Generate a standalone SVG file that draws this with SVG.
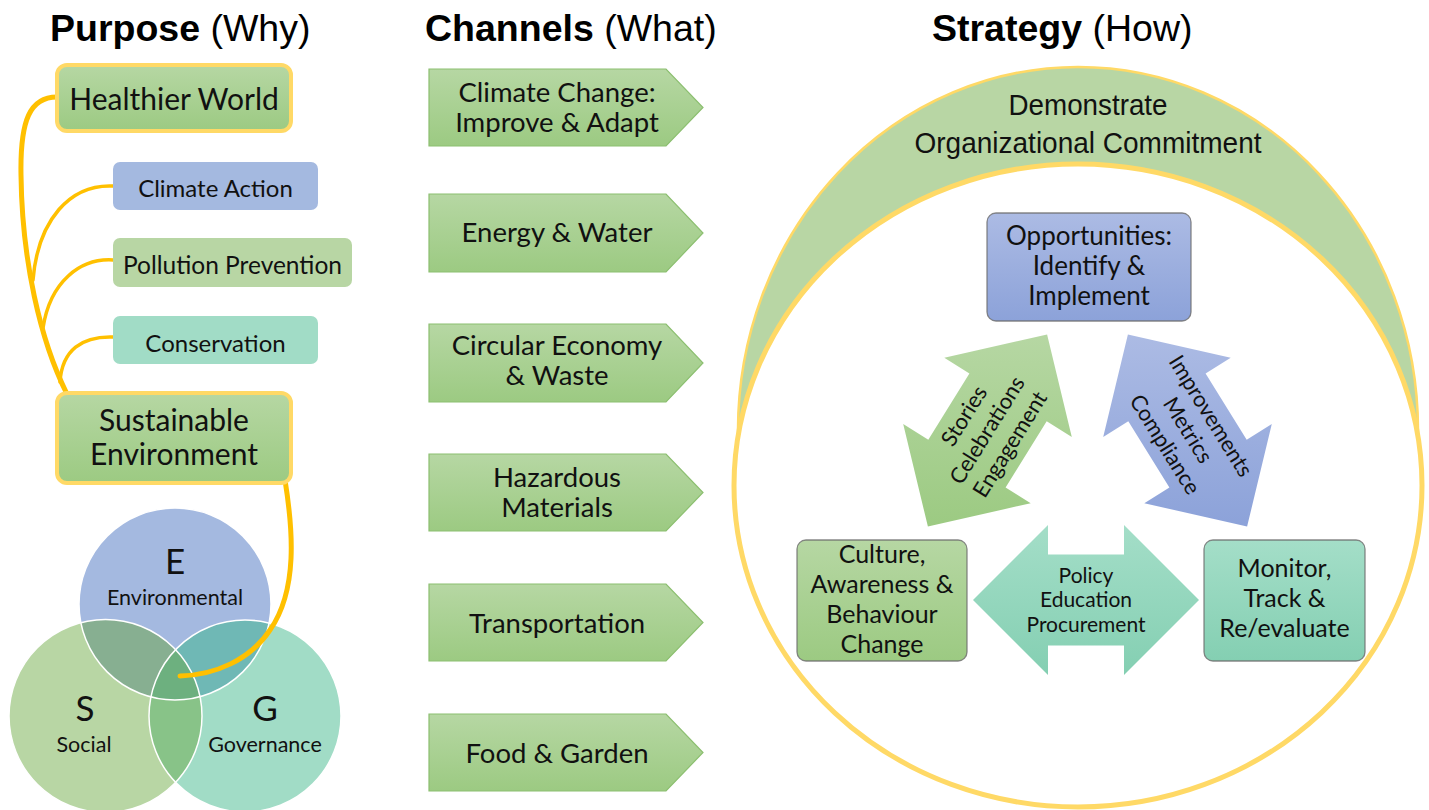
<svg xmlns="http://www.w3.org/2000/svg" width="1429" height="810" viewBox="0 0 1429 810">
  <defs>
    <linearGradient id="gGreen" x1="0" y1="0" x2="0" y2="1">
      <stop offset="0" stop-color="#B6D7A3"/>
      <stop offset="1" stop-color="#9CCA82"/>
    </linearGradient>
    <linearGradient id="gBlue" x1="0" y1="0" x2="0" y2="1">
      <stop offset="0" stop-color="#ACBBE4"/>
      <stop offset="1" stop-color="#8CA2D9"/>
    </linearGradient>
    <linearGradient id="gMint" x1="0" y1="0" x2="0" y2="1">
      <stop offset="0" stop-color="#A4DEC8"/>
      <stop offset="1" stop-color="#84CFB2"/>
    </linearGradient>
    <clipPath id="clipE"><circle cx="175" cy="604" r="96"/></clipPath>
    <clipPath id="clipS"><circle cx="105.5" cy="716" r="96.5"/></clipPath>
    <clipPath id="clipTop"><rect x="700" y="0" width="729" height="445"/></clipPath>
    <style>
      .title { font-family: "Liberation Sans", Arial, sans-serif; font-size: 37.5px; fill: #000; }
      .title .b { font-weight: bold; }
      .t { font-family: Lato, "Open Sans", sans-serif; fill: #111; text-anchor: middle; }
      .ring { font-family: "Liberation Sans", Arial, sans-serif; font-size: 30px; fill: #111; text-anchor: middle; }
      .hub { fill: url(#gGreen); stroke: #FFD966; stroke-width: 4; }
      .chan { fill: url(#gGreen); stroke: #8CBF70; stroke-width: 1.2; }
      .chan-t { font-size: 27.5px; }
      .box { stroke: #6b6b6b; stroke-opacity: 0.8; stroke-width: 1.3; }
      .link { fill: none; stroke: #FFC000; stroke-linecap: round; }
      .venn { stroke: #ffffff; stroke-width: 1.5; }
    </style>
  </defs>

  <rect width="1429" height="810" fill="#ffffff"/>

  <!-- Column headings -->
  <text class="title" x="50" y="41"><tspan class="b">Purpose</tspan> (Why)</text>
  <text class="title" x="425" y="41"><tspan class="b">Channels</tspan> (What)</text>
  <text class="title" x="932" y="41"><tspan class="b">Strategy</tspan> (How)</text>

  <!-- ESG Venn -->
  <g id="venn">
    <circle cx="175" cy="604" r="96" fill="#A4B9E0"/>
    <circle cx="105.5" cy="716" r="96.5" fill="#B8D6A4"/>
    <circle cx="245" cy="716" r="96" fill="#A1DCC6"/>
    <g clip-path="url(#clipE)">
      <circle cx="105.5" cy="716" r="96.5" fill="#87AF91"/>
      <circle cx="245" cy="716" r="96" fill="#6FB8B5"/>
    </g>
    <g clip-path="url(#clipS)">
      <circle cx="245" cy="716" r="96" fill="#88C388"/>
      <g clip-path="url(#clipE)">
        <circle cx="245" cy="716" r="96" fill="#6DB07F"/>
      </g>
    </g>
    <circle class="venn" cx="175" cy="604" r="96" fill="none"/>
    <circle class="venn" cx="105.5" cy="716" r="96.5" fill="none"/>
    <circle class="venn" cx="245" cy="716" r="96" fill="none"/>
    <text class="t" x="175" y="574" font-size="35">E</text>
    <text class="t" x="175" y="605" font-size="21.5">Environmental</text>
    <text class="t" x="85" y="721" font-size="35">S</text>
    <text class="t" x="84" y="752" font-size="21.5">Social</text>
    <text class="t" x="265" y="721" font-size="35">G</text>
    <text class="t" x="265" y="752" font-size="21.5">Governance</text>
  </g>

  <!-- Purpose links -->
  <g id="connectors">
    <path class="link" stroke-width="5" d="M57,97 C30,97 20,120 21,175 C22,260 40,340 67,394"/>
    <path class="link" stroke-width="3.5" d="M113,186 C70,184 38,220 33,280"/>
    <path class="link" stroke-width="3.5" d="M113,260 C80,258 50,282 43,328"/>
    <path class="link" stroke-width="3.5" d="M113,337 C82,336 62,350 60,382"/>
    <path class="link" stroke-width="5" d="M285,480 C293,530 298,590 270,630 C250,660 215,675 180,676"/>
  </g>

  <!-- Purpose nodes -->
  <g id="healthier-world">
    <rect class="hub" x="57" y="65" width="234" height="66" rx="10"/>
    <text class="t" x="174" y="110" font-size="30">Healthier World</text>
  </g>
  <g id="climate-action">
    <rect x="113" y="162" width="205" height="48" rx="7" fill="#A4B9E0"/>
    <text class="t" x="215.5" y="197" font-size="24">Climate Action</text>
  </g>
  <g id="pollution-prevention">
    <rect x="113" y="238" width="239" height="49" rx="7" fill="#B8D6A4"/>
    <text class="t" x="232.5" y="274" font-size="24.5">Pollution Prevention</text>
  </g>
  <g id="conservation">
    <rect x="113" y="316" width="205" height="48" rx="7" fill="#A1DCC6"/>
    <text class="t" x="215.5" y="352" font-size="24">Conservation</text>
  </g>
  <g id="sustainable-environment">
    <rect class="hub" x="57" y="393" width="234" height="90" rx="10"/>
    <text class="t" x="174" y="431" font-size="30">Sustainable</text>
    <text class="t" x="174" y="465" font-size="30">Environment</text>
  </g>

  <!-- Channels -->
  <g id="ch-climate">
    <path class="chan" d="M429,69 H666 L703,107.5 L666,146 H429 Z"/>
    <text class="t chan-t" x="557" y="102">Climate Change:</text>
    <text class="t chan-t" x="557" y="132">Improve &amp; Adapt</text>
  </g>
  <g id="ch-energy">
    <path class="chan" d="M429,194 H666 L703,233 L666,272 H429 Z"/>
    <text class="t chan-t" x="557" y="242">Energy &amp; Water</text>
  </g>
  <g id="ch-circular">
    <path class="chan" d="M429,324 H666 L703,363 L666,402 H429 Z"/>
    <text class="t chan-t" x="557" y="355">Circular Economy</text>
    <text class="t chan-t" x="557" y="385">&amp; Waste</text>
  </g>
  <g id="ch-hazardous">
    <path class="chan" d="M429,454 H666 L703,492.5 L666,531 H429 Z"/>
    <text class="t chan-t" x="557" y="487">Hazardous</text>
    <text class="t chan-t" x="557" y="517">Materials</text>
  </g>
  <g id="ch-transportation">
    <path class="chan" d="M429,584 H666 L703,622.5 L666,661 H429 Z"/>
    <text class="t chan-t" x="557" y="633">Transportation</text>
  </g>
  <g id="ch-food">
    <path class="chan" d="M429,714 H666 L703,752.5 L666,791 H429 Z"/>
    <text class="t chan-t" x="557" y="763">Food &amp; Garden</text>
  </g>

  <!-- Strategy ring -->
  <g id="commitment">
    <ellipse cx="1078" cy="430" rx="340" ry="363" fill="#B8D6A4" stroke="#FFD966" stroke-width="2.5" clip-path="url(#clipTop)"/>
    <ellipse cx="1078" cy="485.5" rx="344" ry="321.5" fill="#ffffff" stroke="#FFD966" stroke-width="5"/>
    <text class="ring" x="1088" y="115" textLength="159" lengthAdjust="spacingAndGlyphs">Demonstrate</text>
    <text class="ring" x="1088" y="153" textLength="347" lengthAdjust="spacingAndGlyphs">Organizational Commitment</text>
  </g>

  <!-- Cycle arrows -->
  <g id="arrow-stories">
    <polygon fill="url(#gGreen)" points="927.9,526.6 903.2,424.1 928.3,439.7 969.4,373.4 944.3,357.8 1047.1,334.4 1071.8,436.9 1046.7,421.3 1005.6,487.6 1030.7,503.2"/>
    <g transform="translate(987.5,430.5) rotate(-58.2)" class="t" font-size="22">
      <text x="0" y="-20">Stories</text>
      <text x="0" y="7">Celebrations</text>
      <text x="0" y="34">Engagement</text>
    </g>
  </g>
  <g id="arrow-improvements">
    <polygon fill="url(#gBlue)" points="1247.1,526.6 1271.8,424.1 1246.7,439.7 1205.6,373.4 1230.7,357.8 1127.9,334.4 1103.2,436.9 1128.3,421.3 1169.4,487.6 1144.3,503.2"/>
    <g transform="translate(1187.5,430.5) rotate(58.2)" class="t" font-size="22">
      <text x="0" y="-20">Improvements</text>
      <text x="0" y="7">Metrics</text>
      <text x="0" y="34">Compliance</text>
    </g>
  </g>
  <g id="arrow-policy">
    <polygon fill="url(#gMint)" points="973,600 1048,525 1048,554.5 1124,554.5 1124,525 1199,600 1124,675 1124,645.5 1048,645.5 1048,675"/>
    <text class="t" x="1086" y="583" font-size="21">Policy</text>
    <text class="t" x="1086" y="607" font-size="21">Education</text>
    <text class="t" x="1086" y="632" font-size="21">Procurement</text>
  </g>

  <!-- Strategy nodes -->
  <g id="opportunities">
    <rect class="box" x="987" y="213" width="204" height="108" rx="9" fill="url(#gBlue)"/>
    <text class="t" x="1089" y="245" font-size="26">Opportunities:</text>
    <text class="t" x="1089" y="275" font-size="26">Identify &amp;</text>
    <text class="t" x="1089" y="305" font-size="26">Implement</text>
  </g>
  <g id="culture">
    <rect class="box" x="797" y="540" width="170" height="121" rx="9" fill="url(#gGreen)"/>
    <text class="t" x="882" y="563" font-size="25">Culture,</text>
    <text class="t" x="882" y="593" font-size="25">Awareness &amp;</text>
    <text class="t" x="882" y="623" font-size="25">Behaviour</text>
    <text class="t" x="882" y="653" font-size="25">Change</text>
  </g>
  <g id="monitor">
    <rect class="box" x="1204" y="540" width="161" height="121" rx="9" fill="url(#gMint)"/>
    <text class="t" x="1284.5" y="577" font-size="25">Monitor,</text>
    <text class="t" x="1284.5" y="607" font-size="25">Track &amp;</text>
    <text class="t" x="1284.5" y="637" font-size="25">Re/evaluate</text>
  </g>
</svg>
